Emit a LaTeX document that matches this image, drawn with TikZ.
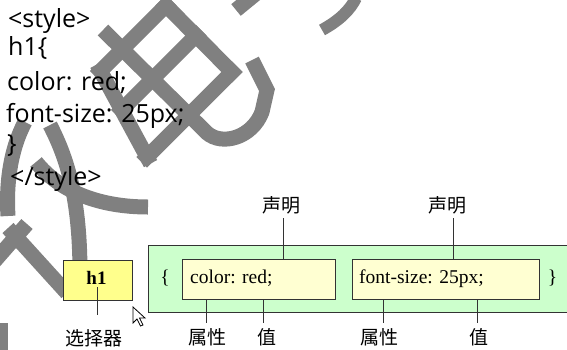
\documentclass[tikz,border=0pt]{standalone}
\usepackage{fontspec}
\setmainfont{Liberation Serif}
\newfontfamily\codefont{Open Sans}
\newfontfamily\cjk{Noto Sans CJK SC}
\begin{document}
\begin{tikzpicture}[x=1pt,y=-1pt,
  wm/.style={draw=wmgray,line width=15pt},
  code/.style={anchor=base west,inner sep=0pt,font=\codefont\fontsize{25}{30}\selectfont},
  lbl/.style={inner sep=0pt,font=\cjk\fontsize{19}{22}\selectfont},
  dtext/.style={anchor=base west,inner sep=0pt,font=\fontsize{19.5}{22}\selectfont},
  conn/.style={draw=black!80,line width=0.9pt},
  box/.style={draw=black!80,line width=1pt}]
\definecolor{wmgray}{RGB}{128,128,128}
\definecolor{greenfill}{RGB}{204,255,204}
\definecolor{yelfill}{RGB}{255,255,140}
\definecolor{creamfill}{RGB}{255,255,210}
\useasboundingbox (0,0) rectangle (567,349);
\clip (0,0) rectangle (567,349);
% ---- watermark ----
\begin{scope}[line cap=rect]
\draw[wm] (100.5,71) -- (166,5.5);
\draw[wm] (121.6,109.9) -- (196,35.5);
\draw[wm] (147,157) -- (232,72);
\draw[wm] (100.5,71) -- (147,157);
\draw[wm] (166,5.5) -- (232,72);
\end{scope}
\draw[wm,line cap=butt] (103,30) -- (207,133) .. controls (222,146) and (252,138) .. (262,112) -- (267,90) -- (252,60);
\draw[wm,line cap=butt] (236,10) -- (258,-8);
\draw[wm,line width=12pt] (322,30) .. controls (340,20) and (350,10) .. (356,-2);
\draw[wm] (50,125) .. controls (68,160) and (80,200) .. (80,274);
\draw[wm] (36,162) .. controls (60,192) and (100,207) .. (148,207);
\draw[wm] (25,122) .. controls (10,150) and (6,185) .. (8,216);
\draw[wm] (-8,264) -- (27,224);
\draw[wm] (8,228) -- (67,293);
\draw[wm] (0,323) -- (0,352);
% ---- code text ----
\node[code] (c1) at (8,27) {<style>};
\node[code] (c2) at (8,55) {h1\{};
\node[code] (c3) at (7,90) {color: red;};
\node[code] (c4) at (6,122) {font-size: 25px;};
\node[code] (c5) at (7,152) {\}};
\node[code] (c6) at (10,185) {</style>};
% ---- diagram ----
\node[box,fill=yelfill,minimum width=69pt,minimum height=40pt,anchor=north west,inner sep=0pt] (sel) at (63,260) {};
\node[inner sep=0pt,anchor=base,font=\bfseries\fontsize{19}{22}\selectfont] (selt) at (96.5,284) {h1};
\fill[greenfill] (148,245) rectangle (575,312);
\draw[box] (575,245) -- (148,245) -- (148,312) -- (575,312);
\node[box,fill=creamfill,minimum width=153pt,minimum height=40pt,anchor=north west,inner sep=0pt] (d1) at (182,259) {};
\node[box,fill=creamfill,minimum width=187pt,minimum height=40pt,anchor=north west,inner sep=0pt] (d2) at (352,259) {};
\node[inner sep=0pt,font=\fontsize{19.5}{22}\selectfont] (lb) at (165,278) {\{};
\node[inner sep=0pt,font=\fontsize{19.5}{22}\selectfont] (rb) at (552.5,278) {\}};
\node[dtext] (t1) at (190,283) {color: red;};
\node[dtext] (t2) at (359,283) {font-size: 25px;};
% labels
\node[lbl] (sm1) at (281,205) {声明};
\node[lbl] (sm2) at (447.5,205) {声明};
\node[lbl] (xz) at (94,338) {选择器};
\node[lbl] (sx1) at (207,337) {属性};
\node[lbl] (z1) at (267,337) {值};
\node[lbl] (sx2) at (379,337) {属性};
\node[lbl] (z2) at (479,337) {值};
% connectors
\coordinate (a1) at (283,218); \coordinate (a1b) at (283,259);
\coordinate (a2) at (453,218); \coordinate (a2b) at (453,259);
\draw[conn] (a1) -- (a1b);
\draw[conn] (a2) -- (a2b);
\draw[conn] (97,287) -- (97,315);
\draw[conn] (206,299) -- (206,323);
\draw[conn] (263,299) -- (263,323);
\draw[conn] (383,299) -- (383,323);
\draw[conn] (477,299) -- (477,323);
% cursor
\draw[fill=white,line width=0.8pt,line join=miter] (133,307) -- (133,323) -- (137,319) -- (140.5,326) -- (143,325) -- (139.5,318) -- (145,318) -- cycle;
\end{tikzpicture}
\end{document}
